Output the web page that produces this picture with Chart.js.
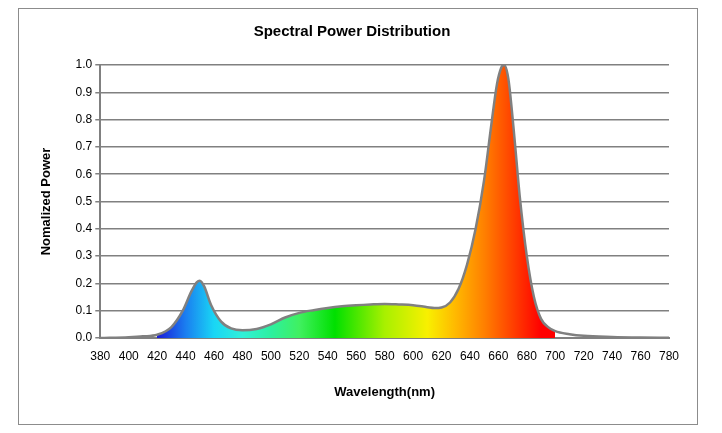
<!DOCTYPE html>
<html><head><meta charset="utf-8">
<script src="https://cdn.jsdelivr.net/npm/chart.js@4/dist/chart.umd.min.js"></script>
<style>html,body{margin:0;background:#fff}#w{position:absolute;left:18px;top:8px;width:680px;height:417px;border:1px solid #8c8c8c;box-sizing:border-box}</style>
</head><body><div id="w"><canvas id="c"></canvas></div>
<script>
const wavelengths=[380,400,410,420,430,438,444,448,450,453,458,465,472,480,490,500,510,520,530,540,550,560,570,580,590,600,610,615,620,626,632,638,644,650,655,659,662,664,667,671,675,680,685,690,695,700,710,720,740,760,780];
const power=[0,0.003,0.006,0.012,0.04,0.1,0.17,0.205,0.21,0.19,0.12,0.06,0.035,0.028,0.033,0.05,0.075,0.092,0.102,0.11,0.116,0.12,0.123,0.125,0.123,0.12,0.113,0.11,0.112,0.13,0.18,0.27,0.4,0.58,0.78,0.93,0.99,1.0,0.95,0.75,0.52,0.3,0.15,0.07,0.04,0.025,0.014,0.008,0.004,0.002,0.001];
const xTicks=[380,400,420,440,460,480,500,520,540,560,580,600,620,640,660,680,700,720,740,760,780];
const gradStops=[[420,'#1a1ad8'],[440,'#1a7ef0'],[460,'#19d6f5'],[480,'#30f0d8'],[500,'#2cf0a0'],[520,'#40f060'],[545,'#00e000'],[580,'#a8f000'],[610,'#f8f000'],[630,'#ffb800'],[650,'#ff8000'],[670,'#ff4000'],[690,'#ff0000'],[700,'#ff0000']];
function bg(ctx){const ch=ctx.chart,a=ch.chartArea,x=ch.scales.x;if(!a)return 'transparent';
const x0=x.getPixelForValue(380),x1=x.getPixelForValue(780);const g=ch.ctx.createLinearGradient(x0,0,x1,0);
const f=v=>(v-380)/400;g.addColorStop(0,'rgba(255,255,255,0)');g.addColorStop(f(419.9),'rgba(255,255,255,0)');
gradStops.forEach(s=>g.addColorStop(f(s[0]),s[1]));g.addColorStop(f(700.1),'rgba(255,255,255,0)');g.addColorStop(1,'rgba(255,255,255,0)');return g;}
new Chart(document.getElementById('c'),{type:'line',
data:{datasets:[{data:wavelengths.map((w,i)=>({x:w,y:power[i]})),borderColor:'#808080',borderWidth:2.5,pointRadius:0,tension:0.4,cubicInterpolationMode:'monotone',fill:'origin',backgroundColor:bg}]},
options:{responsive:true,maintainAspectRatio:false,animation:false,layout:{padding:{left:16,right:28,top:10,bottom:20}},
plugins:{legend:{display:false},title:{display:true,text:'Spectral Power Distribution',color:'#000',font:{family:'Liberation Sans Narrow, Liberation Sans',size:15,weight:'bold'},padding:{top:4,bottom:24}}},
scales:{x:{type:'linear',min:380,max:780,afterBuildTicks:s=>{s.ticks=xTicks.map(v=>({value:v}))},grid:{display:false,drawTicks:true},border:{color:'#808080',width:2},
ticks:{color:'#000',font:{family:'Liberation Sans Narrow, Liberation Sans',size:12},maxRotation:0,autoSkip:false},
title:{display:true,text:'Wavelength(nm)',color:'#000',font:{family:'Liberation Sans Narrow, Liberation Sans',size:13,weight:'bold'},padding:{top:18}}},
y:{min:0,max:1,ticks:{stepSize:0.1,color:'#000',callback:v=>v.toFixed(1),font:{family:'Liberation Sans Narrow, Liberation Sans',size:12}},grid:{color:'#808080',lineWidth:1.5,drawTicks:true,tickLength:5},border:{color:'#808080',width:2},
title:{display:true,text:'Nomalized Power',color:'#000',font:{family:'Liberation Sans',size:13,weight:'bold'},padding:{bottom:18}}}}}});
</script></body></html>
